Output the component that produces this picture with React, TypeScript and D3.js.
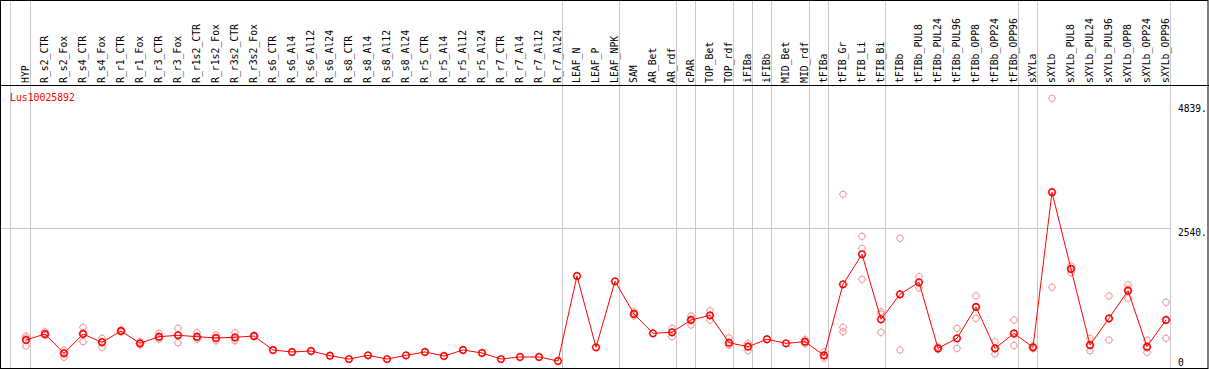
import * as d3 from 'd3';

const VW = 1209;
const VH = 370;
const HEADER_Y = 85;
const RED = '#ff0000';
const PINK = '#f29a9a';
const GRID = '#c8c8c8';
const FONT = '"DejaVu Sans Mono", monospace';

const GENE = 'Lus10025892';

const LABELS = [
  'HYP', 'R_s2_CTR', 'R_s2_Fox', 'R_s4_CTR', 'R_s4_Fox', 'R_r1_CTR', 'R_r1_Fox', 'R_r3_CTR', 'R_r3_Fox',
  'R_r1s2_CTR', 'R_r1s2_Fox', 'R_r3s2_CTR', 'R_r3s2_Fox', 'R_s6_CTR', 'R_s6_Al4', 'R_s6_Al12', 'R_s6_Al24',
  'R_s8_CTR', 'R_s8_Al4', 'R_s8_Al12', 'R_s8_Al24', 'R_r5_CTR', 'R_r5_Al4', 'R_r5_Al12', 'R_r5_Al24',
  'R_r7_CTR', 'R_r7_Al4', 'R_r7_Al12', 'R_r7_Al24', 'LEAF_N', 'LEAF_P', 'LEAF_NPK', 'SAM', 'AR_Bet', 'AR_rdf',
  'cPAR', 'TOP_Bet', 'TOP_rdf', 'iFIBa', 'iFIBb', 'MID_Bet', 'MID_rdf', 'tFIBa', 'tFIB_Gr', 'tFIB_Li', 'tFIB_Bi',
  'tFIBb', 'tFIBb_PUL8', 'tFIBb_PUL24', 'tFIBb_PUL96', 'tFIBb_OPP8', 'tFIBb_OPP24', 'tFIBb_OPP96', 'sXYLa',
  'sXYLb', 'sXYLb_PUL8', 'sXYLb_PUL24', 'sXYLb_PUL96', 'sXYLb_OPP8', 'sXYLb_OPP24', 'sXYLb_OPP96',
];

const MEANS = [
  465, 576, 217, 576, 422, 632, 403, 526, 552,
  526, 502, 515, 539, 279, 242, 260, 173,
  111, 180, 111, 180, 242, 167, 279, 223,
  111, 149, 149, 74, 1654, 329, 1555, 948, 589, 608,
  836, 923, 414, 340, 478, 403, 433, 180, 1499, 2057, 849,
  1314, 1537, 310, 496, 1078, 310, 589, 329,
  3209, 1784, 372, 868, 1381, 340, 836,
];

// individual replicates per sample (empty where they sit under the mean)
const REPS: number[][] = [
  [539, 502, 353], [619, 557, 552], [279, 143, 230], [700, 433, 595], [496, 329, 440],
  [650, 632, 613], [433, 372, 403], [589, 478, 511], [682, 414, 557],
  [600, 478, 502], [557, 452, 496], [600, 452, 492], [552, 539, 526],
  [], [], [], [], [], [], [], [], [], [], [], [], [], [], [], [],
  [], [], [],
  [985, 911, 948], [], [682, 526, 613],
  [911, 743, 855], [1009, 836, 923], [502, 372, 372], [403, 266, 353], [], [], [474, 396, 427],
  [247, 124, 167], [3172, 700, 619], [2391, 2168, 1592], [990, 608, 948],
  [2354, 279, 1309], [1641, 1436, 1533], [334, 288, 307], [682, 310, 496], [1282, 868, 1078],
  [433, 204, 297], [836, 362, 567], [353, 307, 325],
  [4955, 1444, 3228], [1839, 1715, 1793], [496, 266, 353], [1282, 465, 855], [1486, 1239, 1412],
  [465, 236, 321], [1165, 496, 845],
];

const GROUP_ENDS = [
  'HYP', 'R_r7_Al24', 'LEAF_NPK', 'AR_rdf', 'cPAR', 'TOP_rdf', 'iFIBa', 'iFIBb', 'MID_rdf',
  'tFIBa', 'tFIB_Bi', 'tFIBb_OPP96', 'sXYLa', 'sXYLb_OPP96',
];

const Y_LABELS = [4839, 2540, 0];
const Y_GRID = [2540];

const x = d3.scalePoint<string>().domain(LABELS).range([26, 1166]);
const y = d3.scaleLinear().domain([0, 2540]).range([365, 228.3]);

const line = d3.line<number>()
  .x((_, i) => x(LABELS[i])!)
  .y(d => y(d));

function Marker({ cx, cy, color, sw }: { cx: number; cy: number; color: string; sw: number }) {
  const r = 3.2;
  const t = 1.1;
  return (
    <g stroke={color} fill="none">
      <circle cx={cx} cy={cy} r={r} strokeWidth={sw} />
      <g strokeWidth={1}>
        <line x1={cx} y1={cy - r - t} x2={cx} y2={cy - r} />
        <line x1={cx} y1={cy + r} x2={cx} y2={cy + r + t} />
        <line x1={cx - r - t} y1={cy} x2={cx - r} y2={cy} />
        <line x1={cx + r} y1={cy} x2={cx + r + t} y2={cy} />
      </g>
    </g>
  );
}

export default function App() {
  const lastX = x(LABELS[LABELS.length - 1])!;
  const gridRight = Math.round(lastX + 4) + 0.5;
  const vlines = [Math.round(x(LABELS[0])! - 16) + 0.5, ...GROUP_ENDS.map(n => Math.round(x(n)! + 4) + 0.5)];

  return (
    <svg width={VW} height={VH} viewBox={`0 0 ${VW} ${VH}`}
      style={{ position: 'fixed', left: 0, top: 0, display: 'block', background: '#fff' }}>
      <rect x={0} y={0} width={VW} height={VH} fill="#fff" />

      {vlines.map((vx, i) => (
        <line key={`v${i}`} x1={vx} y1={0} x2={vx} y2={368} stroke={GRID} strokeWidth={1} />
      ))}
      {Y_GRID.map(v => (
        <line key={`g${v}`} x1={0} y1={Math.round(y(v)) + 0.5} x2={gridRight} y2={Math.round(y(v)) + 0.5}
          stroke={GRID} strokeWidth={1} />
      ))}

      <line x1={0} y1={HEADER_Y + 0.5} x2={VW} y2={HEADER_Y + 0.5} stroke="#000" strokeWidth={1} />
      <rect x={0.5} y={0.5} width={VW - 1.5} height={368} fill="none" stroke="#000" strokeWidth={1} />

      {LABELS.map(name => (
        <text key={`l${name}`} transform={`translate(${x(name)! + 3}, 83) rotate(-90)`}
          fontSize={9.8} fontFamily={FONT} fill="#000">
          {name}
        </text>
      ))}

      <text x={10} y={101} fontSize={9.8} fontFamily={FONT} fill={RED}>{GENE}</text>

      {Y_LABELS.map(v => (
        <text key={`y${v}`} x={1178} y={Math.min(y(v), 358.5)} dominantBaseline="hanging"
          fontSize={9.6} fontFamily={FONT} fill="#000">
          {v === 0 ? '0' : `${v}.`}
        </text>
      ))}

      {REPS.map((reps, i) => reps.map((v, j) => (
        <Marker key={`r${i}-${j}`} cx={x(LABELS[i])!} cy={y(v)} color={PINK} sw={1} />
      )))}

      <path d={line(MEANS) ?? ''} fill="none" stroke={RED} strokeWidth={1} />

      {MEANS.map((v, i) => (
        <Marker key={`m${i}`} cx={x(LABELS[i])!} cy={y(v)} color={RED} sw={1.4} />
      ))}
    </svg>
  );
}
